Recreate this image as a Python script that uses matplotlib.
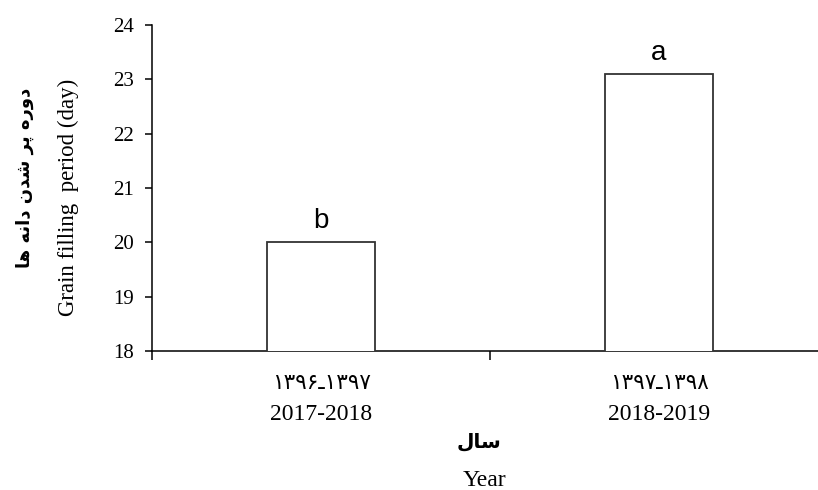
import matplotlib
matplotlib.use('Agg')
import matplotlib.pyplot as plt
import numpy as np

# data
years_fa = ['۱۳۹۶ـ۱۳۹۷', '۱۳۹۷ـ۱۳۹۸']
years_en = ['2017-2018', '2018-2019']
grain_filling = [20.0, 23.1]
letters = ['b', 'a']
y_ticks = [18, 19, 20, 21, 22, 23, 24]

# Persian labels, pre-shaped into presentation forms in visual (LTR) order
ylabel_fa = '\uFE8E\uFEEB \uFEEA\uFEE7\uFE8D\uFEA9 \uFEE5\uFEAA\uFEB7 \uFEAE\uFB58 \uFEE9\uFEAD\uFEED\uFEA9'
xlabel_fa = '\uFEDD\uFE8E\uFEB3'

serif = ['Liberation Serif', 'DejaVu Serif']
arabic = ['DejaVu Sans']

fig = plt.figure(figsize=(8.18, 4.90), dpi=100)
ax = fig.add_axes([152 / 818, 139 / 490, 676 / 818, 326 / 490])

x = np.arange(len(grain_filling))
bars = ax.bar(x, grain_filling, width=0.32, color='white',
              edgecolor='#333333', linewidth=1.3, zorder=3)

for b, lab in zip(bars, letters):
    ax.annotate(lab, (b.get_x() + b.get_width() / 2, b.get_height()),
                xytext=(0, 6), textcoords='offset points',
                ha='center', va='bottom', fontsize=20,
                family='Liberation Sans')

ax.set_xlim(-0.5, 1.5)
ax.set_ylim(18, 24)
ax.set_yticks(y_ticks)
ax.set_yticklabels([str(t) for t in y_ticks], family=serif, fontsize=15)
ax.set_xticks([-0.5, 0.5, 1.5])
ax.set_xticklabels([])

for s in ['top', 'right']:
    ax.spines[s].set_visible(False)
for s in ['left', 'bottom']:
    ax.spines[s].set_linewidth(1.1)
ax.tick_params(axis='y', direction='out', length=5, width=1.1, pad=8)
ax.tick_params(axis='x', direction='out', length=6.5, width=1.1)

# two-line category labels
tr = ax.get_xaxis_transform()
for i in x:
    ax.text(i, -0.098, years_fa[i], transform=tr, ha='center', va='center',
            fontsize=15.5, family=arabic)
    ax.text(i, -0.195, years_en[i], transform=tr, ha='center', va='center',
            fontsize=17, family=serif)

fig.text(479 / 818, 1 - 442 / 490, xlabel_fa, ha='center', va='center',
         fontsize=14.5, fontweight='bold', family=arabic)
fig.text(484 / 818, 1 - 480 / 490, 'Year', ha='center', va='center',
         fontsize=17, family=serif)

fig.text(68 / 818, 1 - 197 / 490, 'Grain filling  period (day)', rotation=90,
         ha='center', va='center', fontsize=16.5, family=serif)
fig.text(25 / 818, 1 - 178 / 490, ylabel_fa, rotation=90,
         ha='center', va='center', fontsize=13, fontweight='bold', family=arabic)

plt.savefig('out.png', dpi=100)
